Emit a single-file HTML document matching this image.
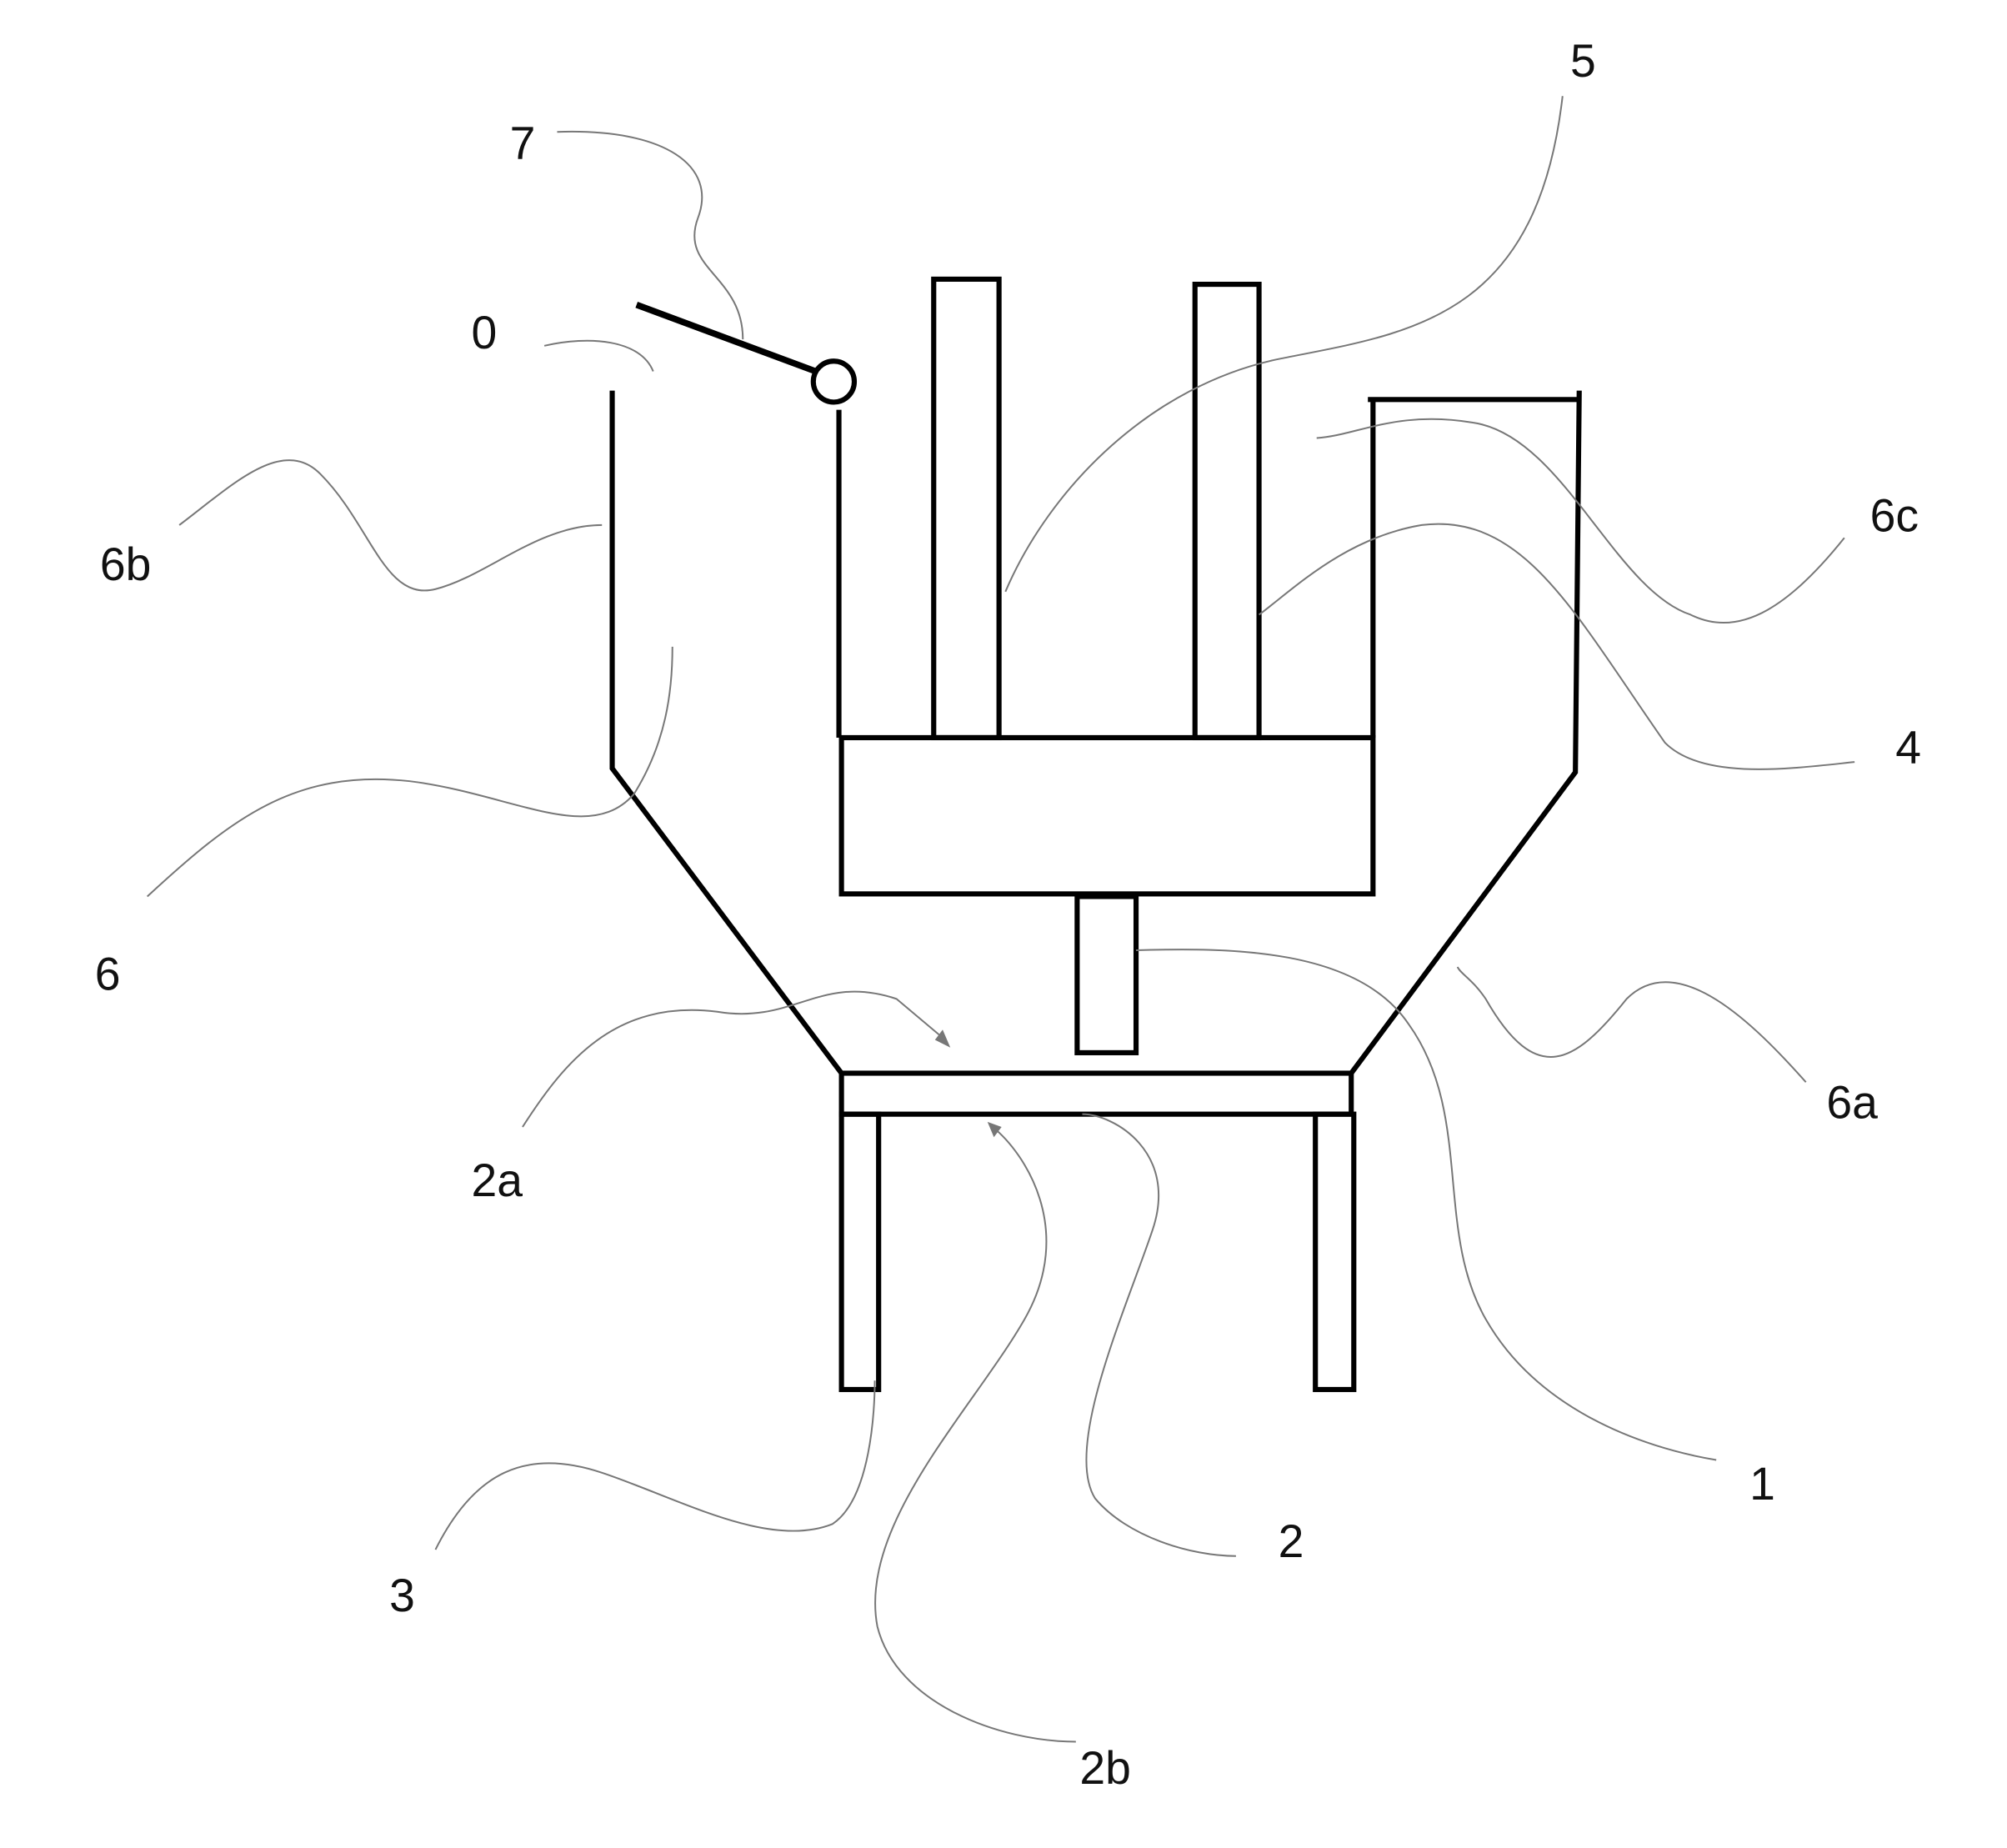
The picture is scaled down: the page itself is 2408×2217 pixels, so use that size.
<!DOCTYPE html>
<html><head><meta charset="utf-8"><style>
html,body{margin:0;padding:0;background:#fff;}
svg{display:block;}
text{font-family:"Liberation Sans",sans-serif;font-size:36px;fill:#111;}
</style></head><body>
<svg width="2408" height="2217" viewBox="0 0 1567 1443" preserveAspectRatio="none" xmlns="http://www.w3.org/2000/svg">
<g fill="none" stroke="#000" stroke-width="4">
<polyline points="478,305 478,600 657,838"/>
<polyline points="1233,305 1230,603 1055,838"/>
<rect x="657" y="838" width="398" height="32" stroke-width="4"/>
<rect x="657" y="870" width="29" height="215"/>
<rect x="1027" y="870" width="30" height="215"/>
<rect x="841" y="700" width="46" height="122"/>
<rect x="657" y="576" width="415" height="122"/>
<line x1="655" y1="320" x2="655" y2="576"/>
<line x1="1072" y1="312" x2="1072" y2="576"/>
<line x1="1068" y1="312" x2="1233" y2="312"/>
<rect x="729" y="218" width="51" height="358"/>
<rect x="933" y="222" width="50" height="354"/>
<line x1="497" y1="238" x2="637" y2="290" stroke-width="5"/>
<circle cx="651" cy="298" r="16"/>
</g>
<g fill="none" stroke="#777" stroke-width="1.3">
<path d="M435,103 C520,100 560,130 545,170 C530,210 580,215 580,265"/>
<path d="M425,270 C460,262 500,265 510,290"/>
<path d="M1220,75 C1200,250 1100,260 1000,280 C900,300 820,380 785,462"/>
<path d="M1440,420 C1400,470 1360,500 1320,480 C1260,460 1220,340 1150,330 C1090,320 1060,340 1028,342"/>
<path d="M1448,595 C1400,600 1330,610 1300,580 C1230,480 1190,400 1110,410 C1050,420 1010,460 983,480"/>
<path d="M140,410 C180,380 220,340 250,370 C290,410 300,470 340,460 C380,450 420,410 470,410"/>
<path d="M115,700 C180,640 230,600 320,610 C400,620 460,660 495,620 C520,580 525,540 525,505"/>
<path d="M1410,845 C1370,800 1310,740 1270,780 C1230,830 1200,850 1160,780 C1150,765 1140,760 1138,755"/>
<path d="M408,880 C440,830 480,780 560,790 C620,800 640,760 700,780 L738,812"/>
<path d="M340,1210 C370,1150 410,1130 470,1150 C530,1170 600,1210 650,1190 C680,1170 683,1100 683,1078"/>
<path d="M965,1215 C930,1215 880,1200 855,1170 C830,1130 880,1020 900,960 C920,900 870,870 845,870"/>
<path d="M1340,1140 C1280,1130 1200,1100 1160,1030 C1120,960 1150,870 1100,800 C1060,740 960,740 887,742"/>
<path d="M840,1360 C780,1360 700,1330 685,1270 C670,1190 760,1100 800,1030 C840,960 800,900 775,880"/>
</g>
<polygon points="742,818 730,812 736,804" fill="#777"/>
<polygon points="771,876 782,880 776,888" fill="#777"/>
<text x="368" y="272">0</text>
<text x="398" y="124">7</text>
<text x="1226" y="60">5</text>
<text x="1460" y="415">6c</text>
<text x="1480" y="596">4</text>
<text x="78" y="453">6b</text>
<text x="74" y="773">6</text>
<text x="1426" y="873">6a</text>
<text x="368" y="934">2a</text>
<text x="304" y="1258">3</text>
<text x="998" y="1216">2</text>
<text x="1366" y="1171">1</text>
<text x="843" y="1393">2b</text>
</svg>
</body></html>
